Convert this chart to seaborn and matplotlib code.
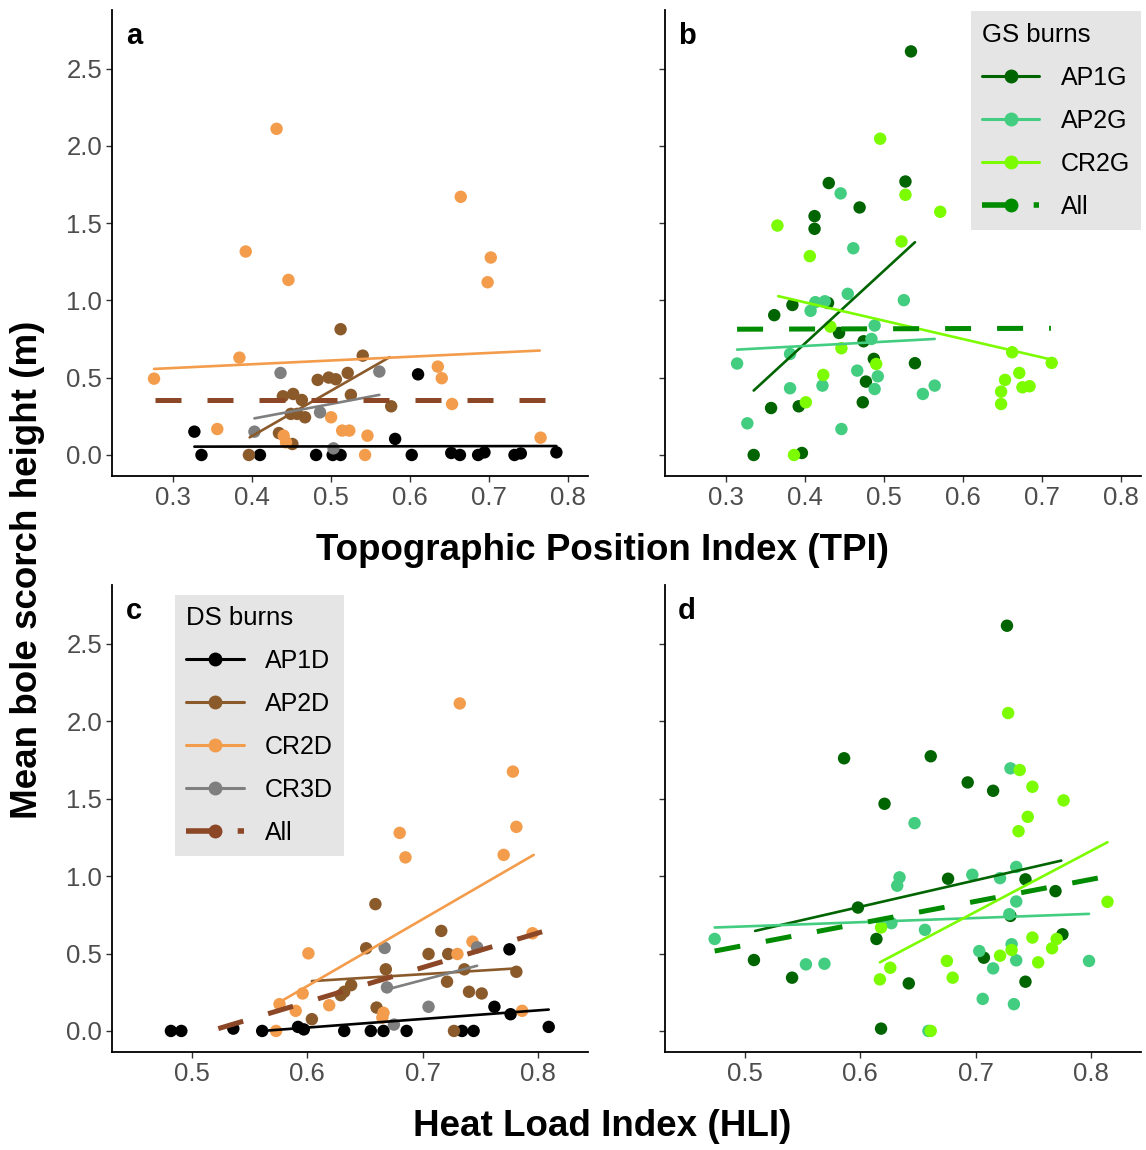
import pandas as pd
import numpy as np
import matplotlib
matplotlib.use("Agg")
import matplotlib.pyplot as plt
from matplotlib.lines import Line2D
import seaborn as sns

# ---- data ----
# panel a: TPI, DS burns
a_ap1d_x = [0.327, 0.610, 0.581, 0.336, 0.410, 0.481, 0.502, 0.512, 0.602, 0.652, 0.663, 0.686, 0.694, 0.732, 0.740, 0.785]
a_ap1d_y = [0.151, 0.522, 0.104, 0.0, 0.0, 0.0, 0.0, 0.0, 0.0, 0.013, 0.0, 0.0, 0.017, 0.0, 0.010, 0.017]
a_ap2d_x = [0.512, 0.540, 0.483, 0.497, 0.506, 0.521, 0.439, 0.452, 0.463, 0.525, 0.576, 0.457, 0.467, 0.449, 0.434, 0.451, 0.396]
a_ap2d_y = [0.814, 0.643, 0.486, 0.501, 0.490, 0.531, 0.380, 0.395, 0.356, 0.389, 0.315, 0.266, 0.244, 0.266, 0.142, 0.071, 0.0]
a_cr2d_x = [0.431, 0.664, 0.392, 0.446, 0.702, 0.698, 0.384, 0.276, 0.635, 0.640, 0.653, 0.500, 0.356, 0.514, 0.523, 0.546, 0.440, 0.443, 0.543, 0.765]
a_cr2d_y = [2.111, 1.671, 1.317, 1.133, 1.278, 1.118, 0.630, 0.494, 0.572, 0.497, 0.330, 0.244, 0.168, 0.158, 0.158, 0.125, 0.125, 0.082, 0.0, 0.112]
a_cr3d_x = [0.436, 0.561, 0.486, 0.403, 0.503]
a_cr3d_y = [0.531, 0.540, 0.276, 0.151, 0.043]

# panel b: TPI, GS burns
b_ap1g_x = [0.534, 0.527, 0.430, 0.469, 0.412, 0.412, 0.384, 0.429, 0.361, 0.443, 0.474, 0.487, 0.539, 0.477, 0.473, 0.357, 0.392, 0.396, 0.335]
b_ap1g_y = [2.612, 1.770, 1.760, 1.602, 1.546, 1.464, 0.971, 0.984, 0.905, 0.790, 0.736, 0.622, 0.594, 0.475, 0.341, 0.304, 0.315, 0.013, 0.0]
b_ap2g_x = [0.445, 0.461, 0.454, 0.525, 0.413, 0.425, 0.407, 0.488, 0.484, 0.381, 0.314, 0.466, 0.492, 0.422, 0.381, 0.488, 0.564, 0.549, 0.327, 0.446]
b_ap2g_y = [1.693, 1.338, 1.043, 1.002, 0.989, 0.995, 0.933, 0.838, 0.751, 0.654, 0.592, 0.546, 0.509, 0.449, 0.432, 0.427, 0.449, 0.395, 0.205, 0.168]
b_cr2g_x = [0.495, 0.527, 0.571, 0.365, 0.522, 0.406, 0.432, 0.446, 0.662, 0.712, 0.490, 0.423, 0.671, 0.653, 0.675, 0.684, 0.648, 0.648, 0.401, 0.386]
b_cr2g_y = [2.047, 1.684, 1.574, 1.485, 1.382, 1.287, 0.831, 0.691, 0.665, 0.596, 0.589, 0.518, 0.531, 0.486, 0.438, 0.445, 0.410, 0.330, 0.341, 0.0]

# panel c: HLI, DS burns
c_ap1d_x = [0.775, 0.762, 0.776, 0.809, 0.482, 0.491, 0.536, 0.561, 0.592, 0.597, 0.632, 0.655, 0.666, 0.686, 0.734, 0.744]
c_ap1d_y = [0.527, 0.156, 0.108, 0.026, 0.0, 0.0, 0.015, 0.0, 0.026, 0.010, 0.0, 0.0, 0.0, 0.0, 0.0, 0.0]
c_ap2d_x = [0.659, 0.716, 0.651, 0.705, 0.722, 0.668, 0.736, 0.781, 0.721, 0.638, 0.632, 0.629, 0.740, 0.751, 0.660, 0.604, 0.727]
c_ap2d_y = [0.819, 0.646, 0.534, 0.497, 0.497, 0.398, 0.398, 0.382, 0.318, 0.296, 0.253, 0.231, 0.253, 0.242, 0.151, 0.076, 0.0]
c_cr2d_x = [0.732, 0.778, 0.781, 0.680, 0.685, 0.770, 0.795, 0.743, 0.730, 0.601, 0.596, 0.576, 0.590, 0.619, 0.666, 0.665, 0.786, 0.573]
c_cr2d_y = [2.115, 1.675, 1.318, 1.279, 1.121, 1.137, 0.631, 0.577, 0.497, 0.501, 0.242, 0.173, 0.130, 0.166, 0.117, 0.086, 0.130, 0.0]
c_cr3d_x = [0.667, 0.747, 0.669, 0.705, 0.675]
c_cr3d_y = [0.536, 0.540, 0.281, 0.156, 0.041]

# panel d: HLI, GS burns
d_ap1g_x = [0.727, 0.586, 0.661, 0.693, 0.715, 0.621, 0.676, 0.743, 0.769, 0.598, 0.730, 0.614, 0.775, 0.508, 0.707, 0.541, 0.642, 0.743, 0.618]
d_ap1g_y = [2.617, 1.761, 1.774, 1.605, 1.551, 1.467, 0.983, 0.979, 0.903, 0.797, 0.743, 0.594, 0.624, 0.458, 0.473, 0.344, 0.307, 0.318, 0.015]
d_ap2g_x = [0.730, 0.647, 0.634, 0.632, 0.697, 0.721, 0.735, 0.735, 0.729, 0.656, 0.627, 0.474, 0.553, 0.569, 0.703, 0.731, 0.735, 0.715, 0.798, 0.706, 0.733, 0.659]
d_ap2g_y = [1.696, 1.342, 0.992, 0.938, 1.009, 0.987, 1.059, 0.836, 0.754, 0.653, 0.696, 0.594, 0.430, 0.434, 0.516, 0.560, 0.456, 0.404, 0.452, 0.207, 0.173, 0.0]
d_cr2g_x = [0.728, 0.738, 0.749, 0.776, 0.745, 0.737, 0.814, 0.618, 0.749, 0.770, 0.766, 0.731, 0.721, 0.675, 0.754, 0.626, 0.680, 0.617, 0.661]
d_cr2g_y = [2.053, 1.685, 1.577, 1.489, 1.383, 1.290, 0.834, 0.668, 0.603, 0.594, 0.534, 0.523, 0.486, 0.452, 0.443, 0.408, 0.344, 0.333, 0.0]

# fitted lines: (x start, x end), (y start, y end)
a_fits = {"AP1D": ([0.327, 0.785], [0.054, 0.058]),
          "AP2D": ([0.397, 0.574], [0.114, 0.633]),
          "CR2D": ([0.276, 0.764], [0.557, 0.676]),
          "CR3D": ([0.403, 0.561], [0.237, 0.389])}
a_all = ([0.277, 0.770], [0.356, 0.356])
b_fits = {"AP1G": ([0.335, 0.539], [0.417, 1.377]),
          "AP2G": ([0.314, 0.564], [0.682, 0.751]),
          "CR2G": ([0.366, 0.712], [1.028, 0.617])}
b_all = ([0.314, 0.711], [0.814, 0.820])
c_fits = {"AP1D": ([0.561, 0.809], [0.0, 0.138]),
          "AP2D": ([0.604, 0.781], [0.322, 0.404]),
          "CR2D": ([0.573, 0.796], [0.173, 1.137]),
          "CR3D": ([0.669, 0.747], [0.268, 0.421])}
c_all = ([0.523, 0.804], [0.015, 0.642])
d_fits = {"AP1G": ([0.509, 0.774], [0.646, 1.100]),
          "AP2G": ([0.474, 0.798], [0.668, 0.756]),
          "CR2G": ([0.617, 0.814], [0.443, 1.219])}
d_all = ([0.474, 0.809], [0.516, 0.992])

ds_colors = {"AP1D": "#000000", "AP2D": "#8B5A2B", "CR2D": "#F39C4C", "CR3D": "#7F7F7F"}
ds_all_color = "#8B4726"
gs_colors = {"AP1G": "#006400", "AP2G": "#43CD80", "CR2G": "#7CFC00"}
gs_all_color = "#008B00"

sns.set_theme(style="ticks")
plt.rcParams["font.family"] = ["Liberation Sans", "DejaVu Sans"]
plt.rcParams["text.color"] = "black"


def points_df(groups):
    rows = []
    for name, (xs, ys) in groups.items():
        for x, y in zip(xs, ys):
            rows.append({"x": x, "y": y, "group": name})
    return pd.DataFrame(rows)


def draw_panel(ax, groups, fits, all_fit, colors, all_color, letter):
    pts = points_df(groups)
    sns.scatterplot(data=pts, x="x", y="y", hue="group", palette=colors,
                    s=80, linewidth=0, alpha=1, legend=False, ax=ax, zorder=2)
    fit_df = points_df(fits)
    sns.lineplot(data=fit_df, x="x", y="y", hue="group", palette=colors,
                 estimator=None, sort=False, linewidth=1.9, legend=False, ax=ax, zorder=3)
    ax.plot(all_fit[0], all_fit[1], color=all_color, linewidth=3.6,
            linestyle=(0, (5.2, 5.2)), solid_capstyle="butt", dash_capstyle="butt", zorder=3)
    ax.text(0.046, 0.945, letter, transform=ax.transAxes, fontsize=21,
            fontweight="bold", ha="center", va="center", color="black")
    ax.set_xlabel("")
    ax.set_ylabel("")
    ax.set_ylim(-0.136, 2.88)
    ax.set_yticks([0.0, 0.5, 1.0, 1.5, 2.0, 2.5])
    ax.set_yticklabels(["0.0", "0.5", "1.0", "1.5", "2.0", "2.5"])
    for s in ["top", "right"]:
        ax.spines[s].set_visible(False)
    for s in ["left", "bottom"]:
        ax.spines[s].set_linewidth(1.3)
        ax.spines[s].set_color("black")
    ax.tick_params(length=4, width=1, color="#333333", labelsize=18.5,
                   labelcolor="#4D4D4D", pad=3)


fig = plt.figure(figsize=(11.46, 11.5), dpi=100)
W, H = 1146, 1150
ax_a = fig.add_axes([112 / W, 1 - 476 / H, 476 / W, 466 / H])
ax_b = fig.add_axes([665 / W, 1 - 476 / H, 476 / W, 466 / H])
ax_c = fig.add_axes([112 / W, 1 - 1052 / H, 476 / W, 467 / H])
ax_d = fig.add_axes([665 / W, 1 - 1052 / H, 476 / W, 467 / H])

draw_panel(ax_a, {"AP1D": (a_ap1d_x, a_ap1d_y), "AP2D": (a_ap2d_x, a_ap2d_y),
                  "CR2D": (a_cr2d_x, a_cr2d_y), "CR3D": (a_cr3d_x, a_cr3d_y)},
           a_fits, a_all, ds_colors, ds_all_color, "a")
draw_panel(ax_b, {"AP1G": (b_ap1g_x, b_ap1g_y), "AP2G": (b_ap2g_x, b_ap2g_y),
                  "CR2G": (b_cr2g_x, b_cr2g_y)},
           b_fits, b_all, gs_colors, gs_all_color, "b")
draw_panel(ax_c, {"AP1D": (c_ap1d_x, c_ap1d_y), "AP2D": (c_ap2d_x, c_ap2d_y),
                  "CR2D": (c_cr2d_x, c_cr2d_y), "CR3D": (c_cr3d_x, c_cr3d_y)},
           c_fits, c_all, ds_colors, ds_all_color, "c")
draw_panel(ax_d, {"AP1G": (d_ap1g_x, d_ap1g_y), "AP2G": (d_ap2g_x, d_ap2g_y),
                  "CR2G": (d_cr2g_x, d_cr2g_y)},
           d_fits, d_all, gs_colors, gs_all_color, "d")

for ax in [ax_a, ax_b]:
    ax.set_xlim(0.2228, 0.825)
    ax.set_xticks([0.3, 0.4, 0.5, 0.6, 0.7, 0.8])
    ax.set_xticklabels(["0.3", "0.4", "0.5", "0.6", "0.7", "0.8"])
for ax in [ax_c, ax_d]:
    ax.set_xlim(0.431, 0.843)
    ax.set_xticks([0.5, 0.6, 0.7, 0.8])
    ax.set_xticklabels(["0.5", "0.6", "0.7", "0.8"])
for ax in [ax_b, ax_d]:
    ax.set_yticklabels([])


def legend_handles(colors, all_color):
    hs = [Line2D([0], [0], color=c, lw=2.2, marker="o", markersize=9, label=k)
          for k, c in colors.items()]
    hs.append(Line2D([0], [0], color=all_color, lw=4, marker="o", markersize=9,
                     linestyle=(0, (5.3, 4.0)), dash_capstyle="butt", label="All"))
    return hs


leg_kw = dict(fontsize=18, title_fontsize=18.5, frameon=True, fancybox=False,
              facecolor="#E5E5E5", edgecolor="none", framealpha=1,
              handlelength=2.3, handletextpad=0.85, labelspacing=0.76,
              borderpad=0.45, borderaxespad=0, alignment="left", numpoints=1)
ax_b.legend(handles=legend_handles(gs_colors, gs_all_color), title="GS burns",
            loc="upper right", bbox_to_anchor=(1.0, 0.997), **leg_kw)
ax_c.legend(handles=legend_handles(ds_colors, ds_all_color), title="DS burns",
            loc="upper left", bbox_to_anchor=(0.132, 0.979), **leg_kw)

fig.text(602 / W, 1 - 551 / H, "Topographic Position Index (TPI)", fontsize=26.5,
         fontweight="bold", ha="center", va="center", color="black")
fig.text(602 / W, 1 - 1127 / H, "Heat Load Index (HLI)", fontsize=26.5,
         fontweight="bold", ha="center", va="center", color="black")
fig.text(28 / W, 1 - 570 / H, "Mean bole scorch height (m)", fontsize=26.5,
         fontweight="bold", ha="center", va="center", rotation=90, color="black")

fig.savefig("out.png", dpi=100)
